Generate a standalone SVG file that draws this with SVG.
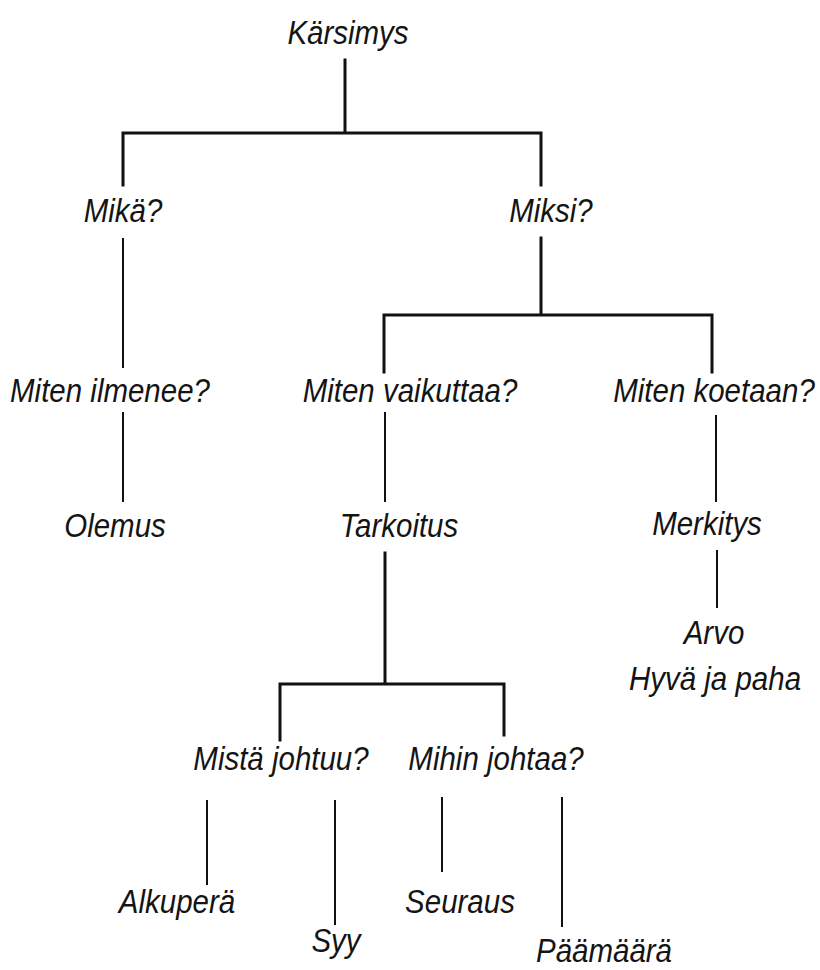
<svg xmlns="http://www.w3.org/2000/svg" width="820" height="970" viewBox="0 0 820 970">
  <style>
    .lbl { font-family: "Liberation Sans", Arial, sans-serif; font-style: italic; font-size: 29.5px; fill: #141414; text-anchor: middle; }
    .bar { stroke: #111; stroke-width: 3; fill: none; stroke-linecap: square; }
    .stem { stroke: #111; stroke-width: 2; fill: none; }
  </style>
  <rect width="820" height="970" fill="#ffffff"/>

  <!-- connectors -->
  <g id="connectors">
    <!-- root split -->
    <path class="bar" d="M345 60 V133 M123 133 H541 M123 133 V185 M541 133 V185"/>
    <path class="stem" d="M123 238 V368"/>
    <!-- Miksi split -->
    <path class="bar" d="M541 238 V315 M384 315 H712 M384 315 V372 M712 315 V372"/>
    <path class="stem" d="M123 412 V502 M385 412 V502 M716 415 V502"/>
    <!-- Tarkoitus split -->
    <path class="bar" d="M385 553 V684 M280 684 H504 M280 684 V740 M504 684 V735"/>
    <path class="stem" d="M717 550 V608"/>
    <path class="stem" d="M207 800 V885 M335 800 V925 M442 797 V872 M562 797 V927"/>
  </g>

  <!-- labels: each is placed at its baseline and stretched slightly taller -->
  <g id="n-karsimys" transform="translate(348 44) scale(1 1.15)"><text class="lbl">Kärsimys</text></g>
  <g id="n-mika" transform="translate(123 222) scale(1 1.15)"><text class="lbl">Mikä?</text></g>
  <g id="n-miksi" transform="translate(551 222) scale(1 1.15)"><text class="lbl">Miksi?</text></g>
  <g id="n-ilmenee" transform="translate(110 402) scale(1 1.15)"><text class="lbl">Miten ilmenee?</text></g>
  <g id="n-vaikuttaa" transform="translate(410 402) scale(1 1.15)"><text class="lbl">Miten vaikuttaa?</text></g>
  <g id="n-koetaan" transform="translate(714 402) scale(1 1.15)"><text class="lbl">Miten koetaan?</text></g>
  <g id="n-olemus" transform="translate(115 537) scale(1 1.15)"><text class="lbl">Olemus</text></g>
  <g id="n-tarkoitus" transform="translate(399 537) scale(1 1.15)"><text class="lbl">Tarkoitus</text></g>
  <g id="n-merkitys" transform="translate(707 535) scale(1 1.15)"><text class="lbl">Merkitys</text></g>
  <g id="n-arvo">
    <g transform="translate(714 644) scale(1 1.15)"><text class="lbl">Arvo</text></g>
    <g transform="translate(715 690) scale(1 1.15)"><text class="lbl">Hyvä ja paha</text></g>
  </g>
  <g id="n-mista" transform="translate(281 770) scale(1 1.15)"><text class="lbl">Mistä johtuu?</text></g>
  <g id="n-mihin" transform="translate(496 770) scale(1 1.15)"><text class="lbl">Mihin johtaa?</text></g>
  <g id="n-alkupera" transform="translate(177 913) scale(1 1.15)"><text class="lbl">Alkuperä</text></g>
  <g id="n-syy" transform="translate(336 952) scale(1 1.15)"><text class="lbl">Syy</text></g>
  <g id="n-seuraus" transform="translate(460 913) scale(1 1.15)"><text class="lbl">Seuraus</text></g>
  <g id="n-paamaara" transform="translate(604 962) scale(1 1.15)"><text class="lbl">Päämäärä</text></g>
</svg>
